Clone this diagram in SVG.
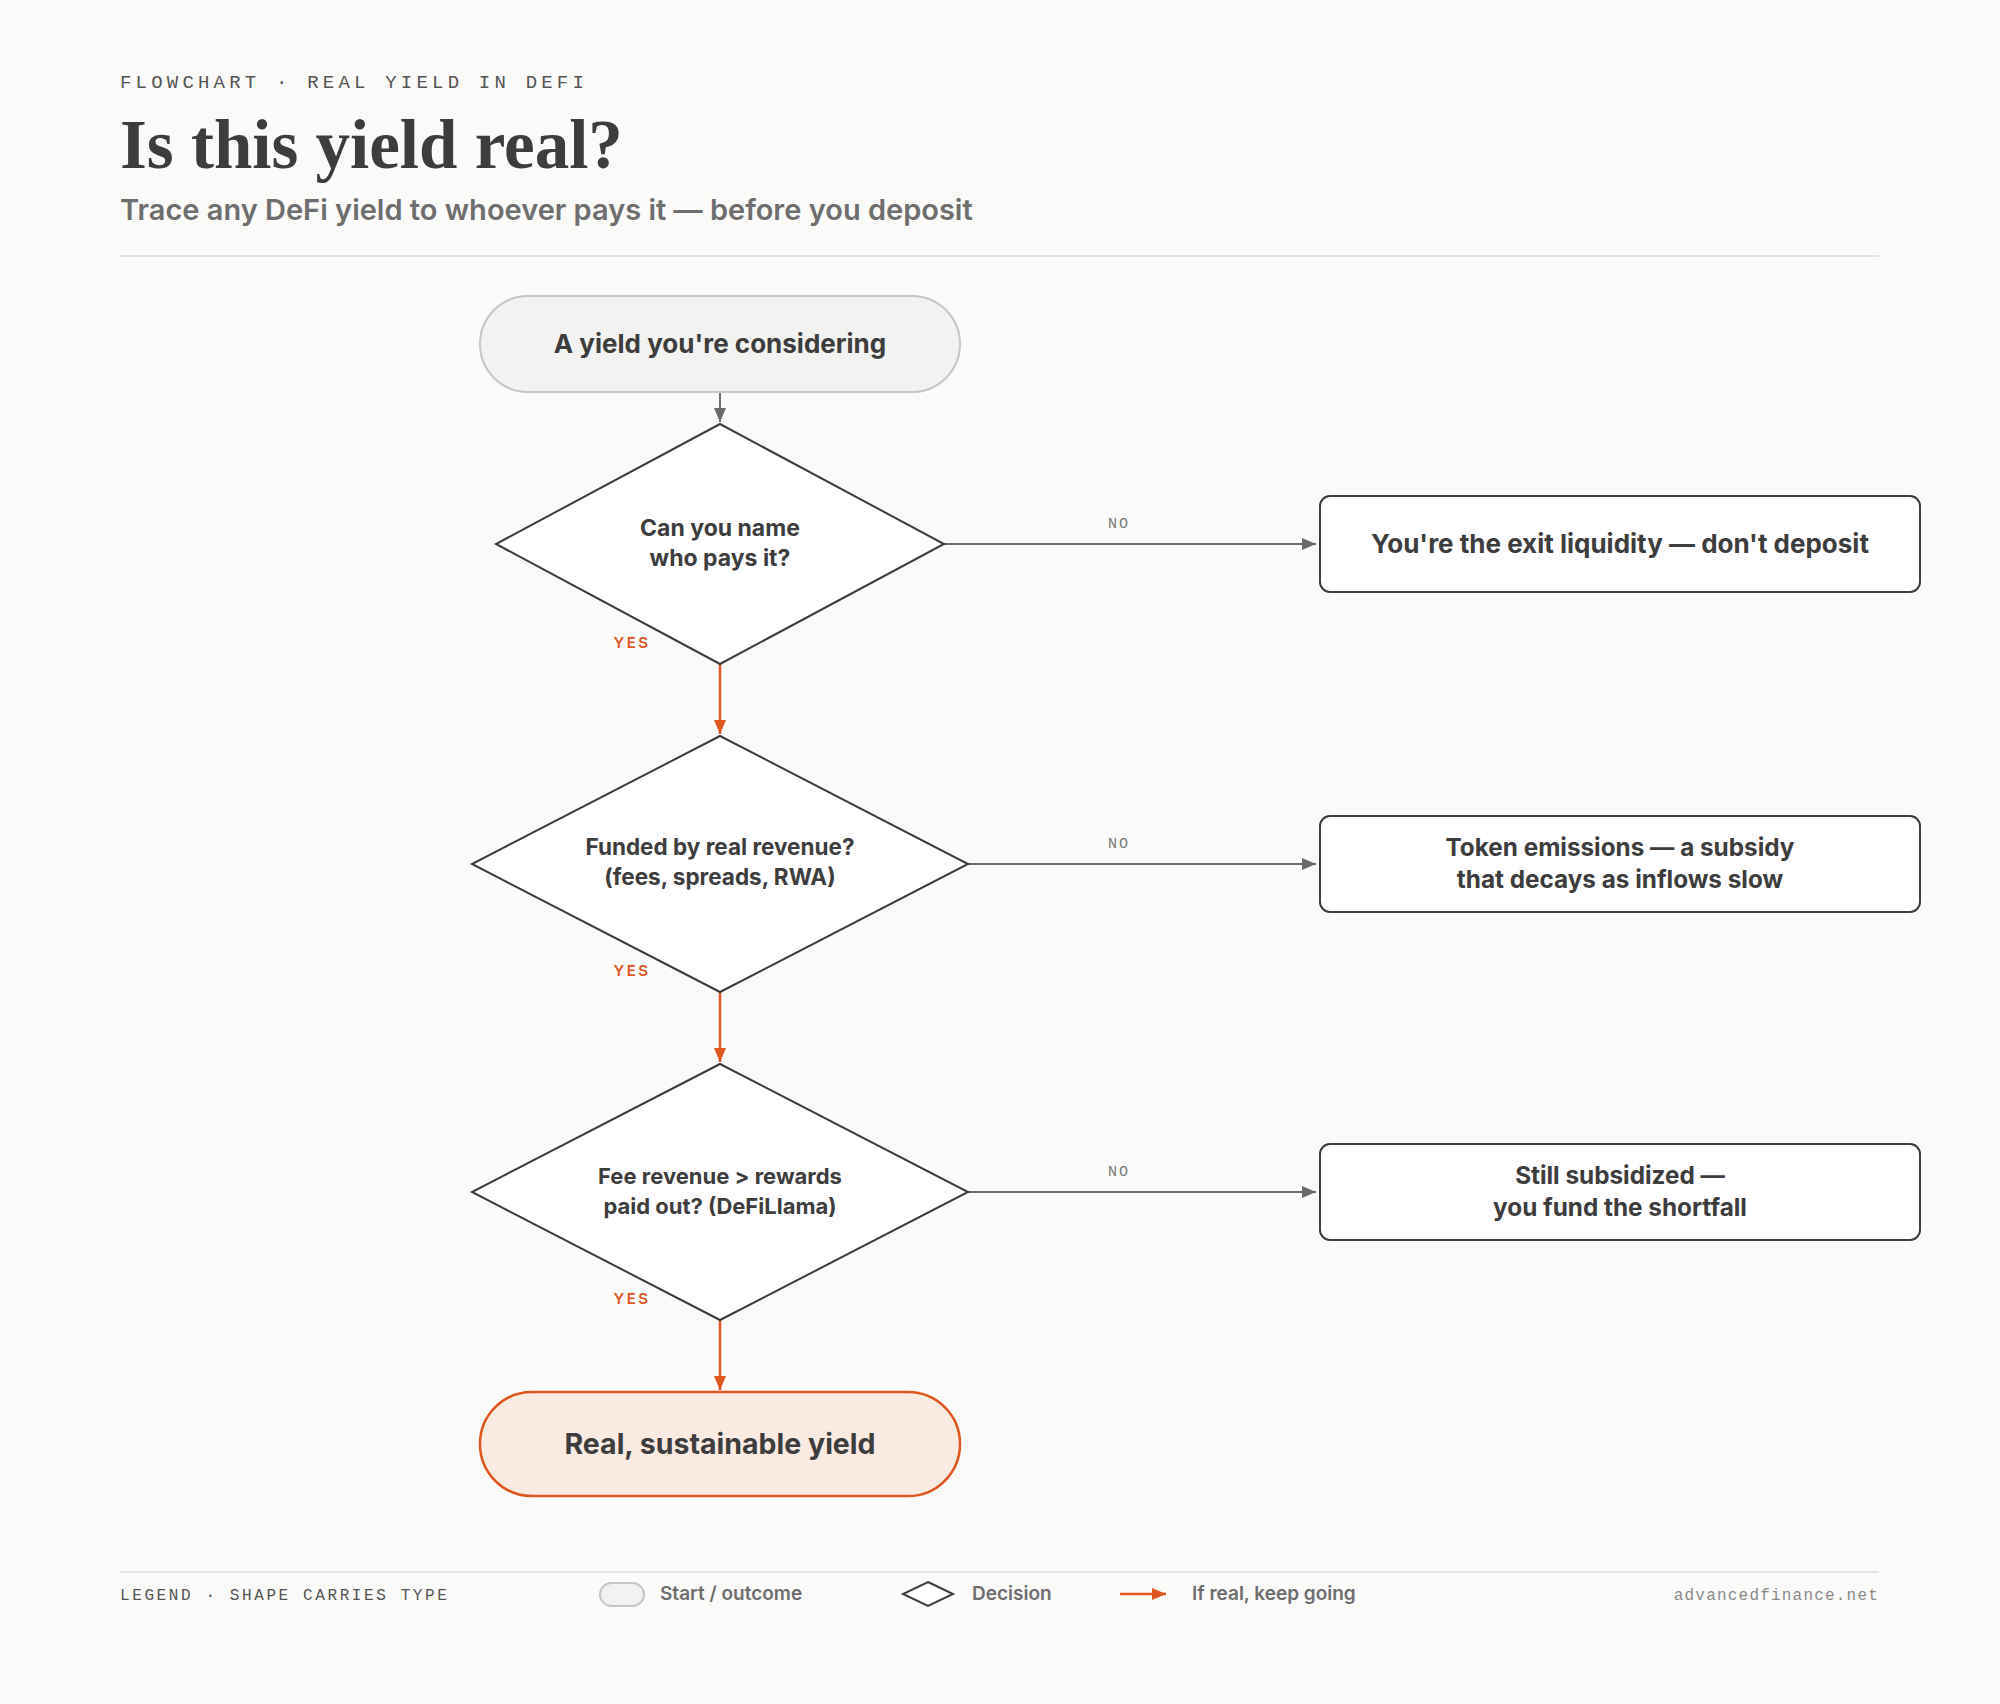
<svg xmlns="http://www.w3.org/2000/svg" width="2000" height="1704" viewBox="0 0 2000 1704">
<defs>
<style>
.bg{fill:#fafaf8}
.eyebrow{font-family:"Liberation Mono","DejaVu Sans Mono",monospace;font-size:19px;letter-spacing:4.2px;fill:#555}
.title{font-family:"Liberation Serif","DejaVu Serif",serif;font-weight:700;font-size:69px;fill:#3d3d3d}
.sub{font-family:Inter,"Noto Sans",sans-serif;font-weight:600;font-size:29px;fill:#6e6e6e}
.rule{stroke:#e3e3e1;stroke-width:2}
.nt{font-family:Inter,"Noto Sans",sans-serif;font-weight:700;fill:#3d3d3d;text-anchor:middle}
.pill{fill:#f2f2f0;stroke:#c6c6c4;stroke-width:2}
.endpill{fill:#f9eae2;stroke:#e0561f;stroke-width:2.5}
.dia{fill:#fff;stroke:#3d3d3d;stroke-width:2}
.box{fill:#fff;stroke:#3d3d3d;stroke-width:2}
.no{stroke:#6b6b6b;stroke-width:2;fill:none}
.yes{stroke:#e0561f;stroke-width:2.5;fill:none}
.lno{font-family:"Liberation Mono","DejaVu Sans Mono",monospace;font-size:15px;letter-spacing:2px;fill:#777;text-anchor:middle}
.lyes{font-family:Inter,"Noto Sans",sans-serif;font-weight:600;font-size:15px;letter-spacing:2.5px;fill:#e0561f;text-anchor:middle}
.leg{font-family:"Liberation Mono","DejaVu Sans Mono",monospace;font-size:16px;letter-spacing:2.6px;fill:#555}
.legt{font-family:Inter,"Noto Sans",sans-serif;font-weight:600;font-size:19px;fill:#6e6e6e}
.site{font-family:"Liberation Mono","DejaVu Sans Mono",monospace;font-size:16px;letter-spacing:1.2px;fill:#8a8a8a;text-anchor:end}
</style>
<marker id="ag" markerWidth="14" markerHeight="12" refX="14" refY="6" orient="auto" markerUnits="userSpaceOnUse"><path d="M0,0 L14,6 L0,12 z" fill="#6b6b6b"/></marker>
<marker id="ao" markerWidth="14" markerHeight="12" refX="14" refY="6" orient="auto" markerUnits="userSpaceOnUse"><path d="M0,0 L14,6 L0,12 z" fill="#e0561f"/></marker>
</defs>
<rect class="bg" x="0" y="0" width="2000" height="1704"/>

<g id="header">
<text class="eyebrow" x="120" y="88">FLOWCHART · REAL YIELD IN DEFI</text>
<text class="title" x="120" y="168">Is this yield real?</text>
<text class="sub" x="120" y="220">Trace any DeFi yield to whoever pays it — before you deposit</text>
<line class="rule" x1="120" y1="256" x2="1879" y2="256"/>
</g>

<g id="connectors">
<line class="no" x1="720" y1="392" x2="720" y2="422" marker-end="url(#ag)"/>
<line class="no" x1="944" y1="544" x2="1316" y2="544" marker-end="url(#ag)"/>
<line class="yes" x1="720" y1="664" x2="720" y2="734" marker-end="url(#ao)"/>
<line class="no" x1="968" y1="864" x2="1316" y2="864" marker-end="url(#ag)"/>
<line class="yes" x1="720" y1="992" x2="720" y2="1062" marker-end="url(#ao)"/>
<line class="no" x1="968" y1="1192" x2="1316" y2="1192" marker-end="url(#ag)"/>
<line class="yes" x1="720" y1="1320" x2="720" y2="1390" marker-end="url(#ao)"/>
<text class="lno" x="1119" y="528">NO</text>
<text class="lno" x="1119" y="848">NO</text>
<text class="lno" x="1119" y="1176">NO</text>
<text class="lyes" x="632" y="648">YES</text>
<text class="lyes" x="632" y="976">YES</text>
<text class="lyes" x="632" y="1304">YES</text>
</g>

<g id="start">
<rect class="pill" x="480" y="296" width="480" height="96" rx="48"/>
<text class="nt" x="720" y="353" font-size="26">A yield you're considering</text>
</g>

<g id="d1">
<polygon class="dia" points="720,424 944,544 720,664 496,544"/>
<text class="nt" x="720" y="536" font-size="23">Can you name</text>
<text class="nt" x="720" y="566" font-size="23">who pays it?</text>
</g>

<g id="o1">
<rect class="box" x="1320" y="496" width="600" height="96" rx="10"/>
<text class="nt" x="1620" y="553" font-size="26">You're the exit liquidity — don't deposit</text>
</g>

<g id="d2">
<polygon class="dia" points="720,736 968,864 720,992 472,864"/>
<text class="nt" x="720" y="855" font-size="22.5">Funded by real revenue?</text>
<text class="nt" x="720" y="885" font-size="22.5">(fees, spreads, RWA)</text>
</g>

<g id="o2">
<rect class="box" x="1320" y="816" width="600" height="96" rx="10"/>
<text class="nt" x="1620" y="856" font-size="24.3">Token emissions — a subsidy</text>
<text class="nt" x="1620" y="888" font-size="24.3">that decays as inflows slow</text>
</g>

<g id="d3">
<polygon class="dia" points="720,1064 968,1192 720,1320 472,1192"/>
<text class="nt" x="720" y="1184" font-size="22">Fee revenue &gt; rewards</text>
<text class="nt" x="720" y="1214" font-size="22">paid out? (DeFiLlama)</text>
</g>

<g id="o3">
<rect class="box" x="1320" y="1144" width="600" height="96" rx="10"/>
<text class="nt" x="1620" y="1184" font-size="24.3">Still subsidized —</text>
<text class="nt" x="1620" y="1216" font-size="24.3">you fund the shortfall</text>
</g>

<g id="end">
<rect class="endpill" x="480" y="1392" width="480" height="104" rx="52"/>
<text class="nt" x="720" y="1454" font-size="28.5">Real, sustainable yield</text>
</g>

<g id="legend">
<line class="rule" x1="120" y1="1572" x2="1879" y2="1572"/>
<text class="leg" x="120" y="1600">LEGEND · SHAPE CARRIES TYPE</text>
<rect class="pill" x="600" y="1583" width="44" height="23" rx="11.5"/>
<text class="legt" x="660" y="1600">Start / outcome</text>
<polygon points="928,1582 953,1594 928,1606 903,1594" fill="#fff" stroke="#3d3d3d" stroke-width="2"/>
<text class="legt" x="972" y="1600">Decision</text>
<line x1="1120" y1="1594" x2="1166" y2="1594" stroke="#e0561f" stroke-width="2.5" marker-end="url(#ao)"/>
<text class="legt" x="1192" y="1600">If real, keep going</text>
<text class="site" x="1879" y="1600">advancedfinance.net</text>
</g>
</svg>
